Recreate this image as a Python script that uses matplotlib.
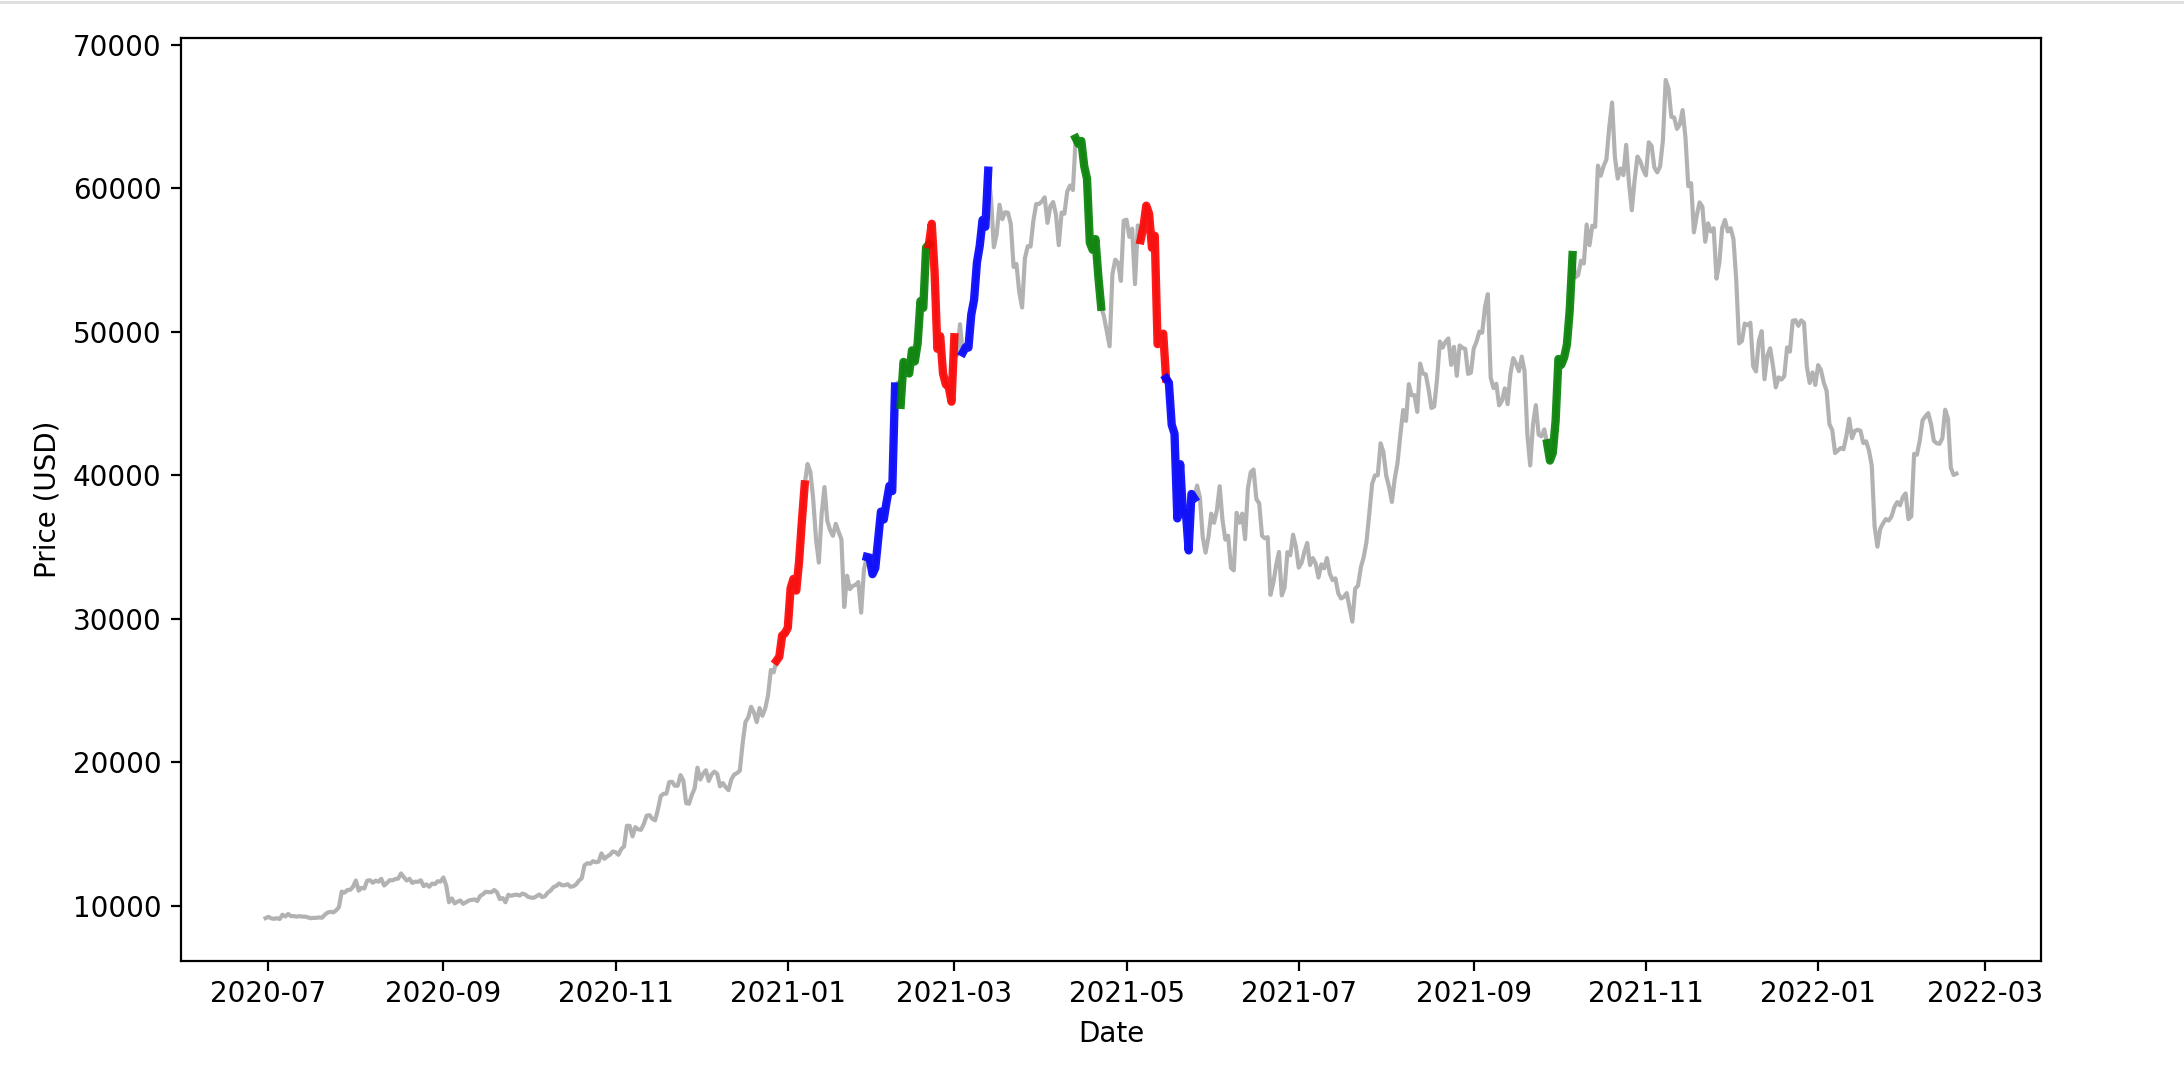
import numpy as np
import pandas as pd
import matplotlib
matplotlib.use("Agg")
import matplotlib.pyplot as plt
from matplotlib.lines import Line2D

# daily closing price (USD)
jun_2020 = [9137]
jul_2020 = [9228, 9123, 9087, 9132, 9073, 9375, 9252, 9428, 9277, 9278, 9240, 9276, 9243, 9243, 9192, 9132,
            9151, 9159, 9185, 9164, 9374, 9525, 9581, 9536, 9677, 9905, 10990, 10912, 11100, 11111, 11323]
aug_2020 = [11760, 11053, 11246, 11205, 11747, 11779, 11601, 11754, 11675, 11878, 11410, 11584, 11784, 11769,
            11865, 11892, 12254, 11991, 11758, 11878, 11592, 11681, 11664, 11774, 11366, 11489, 11323, 11542,
            11507, 11711, 11680]
sep_2020 = [11971, 11414, 10245, 10512, 10169, 10281, 10370, 10132, 10243, 10364, 10401, 10443, 10324, 10681,
            10797, 10974, 10949, 10944, 11095, 10938, 10462, 10538, 10246, 10761, 10692, 10750, 10776, 10709,
            10845, 10785]
oct_2020 = [10620, 10570, 10550, 10670, 10788, 10604, 10669, 10915, 11065, 11296, 11384, 11555, 11426, 11430,
            11505, 11322, 11358, 11483, 11742, 11917, 12823, 12965, 12931, 13108, 13031, 13075, 13654, 13272,
            13437, 13547, 13781]
nov_2020 = [13737, 13550, 13950, 14133, 15579, 15565, 14833, 15479, 15332, 15290, 15701, 16276, 16317, 16068,
            15955, 16716, 17645, 17804, 17817, 18621, 18642, 18370, 18364, 19107, 18732, 17150, 17108, 17717,
            18177, 19625]
dec_2020 = [18802, 19201, 19445, 18699, 19154, 19346, 19191, 18321, 18553, 18264, 18058, 18803, 19142, 19246,
            19417, 21310, 22805, 23137, 23869, 23477, 22803, 23783, 23241, 23735, 24664, 26437, 26272, 27084,
            27362, 28841, 29002]
jan_2021 = [29374, 32127, 32782, 31971, 33992, 36824, 39371, 40797, 40254, 38356, 35566, 33922, 37316, 39187,
            36825, 36178, 35791, 36630, 36069, 35547, 30825, 33005, 32067, 32289, 32366, 32569, 30432, 33466,
            34316, 34269, 33114]
feb_2021 = [33537, 35510, 37472, 36926, 38144, 39266, 38903, 46196, 46481, 44918, 47909, 47504, 47105, 48717,
            47945, 49199, 52149, 51679, 55888, 56100, 57539, 54207, 48824, 49705, 47093, 46339, 46188, 45137]
mar_2021 = [49631, 48378, 50538, 48561, 48927, 48912, 51206, 52246, 54824, 56008, 57805, 57332, 61243, 59302,
            55907, 56804, 58870, 57858, 58346, 58313, 57523, 54529, 54738, 52775, 51704, 55137, 55974, 55947,
            57750, 58918, 58918]
apr_2021 = [59095, 59384, 57603, 58758, 59057, 58192, 56048, 58323, 58245, 59793, 60204, 59893, 63503, 63109,
            63314, 61572, 60683, 56216, 55724, 56473, 53906, 51762, 51093, 50050, 49004, 54021, 55033, 54824,
            53555, 57750]
may_2021 = [57828, 56631, 57200, 53333, 57424, 56397, 57356, 58803, 58232, 55859, 56704, 49150, 49716, 49880,
            46760, 46456, 43538, 42909, 37002, 40782, 37304, 37536, 34770, 38705, 38402, 39294, 38436, 35697,
            34617, 35678, 37333]
jun_2021 = [36694, 37569, 39247, 36880, 35520, 35797, 33552, 33380, 37389, 36702, 37334, 35552, 39098, 40218,
            40407, 38347, 38053, 35787, 35615, 35698, 31676, 32505, 33723, 34662, 31637, 32186, 34650, 34434,
            35867, 35040]
jul_2021 = [33572, 33897, 34668, 35287, 33746, 34235, 33855, 32877, 33798, 33520, 34240, 33155, 32702, 32822,
            31780, 31421, 31533, 31796, 30817, 29807, 32110, 32314, 33581, 34292, 35350, 37337, 39406, 39995,
            40008, 42235, 41626]
aug_2021 = [39974, 39201, 38152, 39747, 40869, 42816, 44556, 43798, 46365, 45585, 45593, 44428, 47793, 47096,
            47047, 46004, 44695, 44801, 46717, 49339, 48905, 49321, 49546, 47706, 48960, 46942, 49058, 48902,
            48806, 47074, 47167]
sep_2021 = [48847, 49327, 50025, 49944, 51753, 52633, 46811, 46091, 46391, 44883, 45201, 46063, 44963, 47092,
            48176, 47783, 47267, 48278, 47260, 42844, 40694, 43574, 44896, 42840, 42717, 43208, 42236, 41034,
            41564, 43790]
oct_2021 = [48116, 47711, 48199, 49112, 51515, 55361, 53805, 53967, 54968, 54771, 57484, 56041, 57401, 57321,
            61593, 60892, 61553, 62026, 64262, 65993, 62210, 60692, 61393, 60931, 63039, 60364, 58483, 60622,
            62227, 61889, 61319]
nov_2021 = [60915, 63220, 62970, 61453, 61126, 61528, 63327, 67566, 66972, 64995, 64950, 64155, 64469, 65466,
            63557, 60161, 60368, 56943, 58119, 59031, 58732, 56289, 57570, 57006, 57229, 53716, 54816, 57248,
            57806, 57005]
dec_2021 = [57229, 56478, 53598, 49201, 49369, 50583, 50472, 50640, 47589, 47244, 49385, 50053, 46702, 48343,
            48864, 47632, 46132, 46835, 46681, 46915, 48925, 48628, 50784, 50822, 50429, 50809, 50640, 47588,
            46444, 47178, 46307]
jan_2022 = [47686, 47345, 46458, 45897, 43569, 43160, 41558, 41734, 41912, 41822, 42736, 43949, 42592, 43099,
            43177, 43114, 42250, 42375, 41744, 40680, 36458, 35030, 36276, 36654, 36954, 36852, 37138, 37784,
            38138, 37917, 38483]
feb_2022 = [38743, 36952, 37154, 41501, 41441, 42412, 43840, 44118, 44338, 43565, 42407, 42244, 42197, 42586,
            44575, 43961, 40538, 40030, 40122]

# highlighted windows
seg_starts = ["2020-12-28", "2021-01-29", "2021-02-10", "2021-02-20", "2021-03-04",
              "2021-04-13", "2021-05-06", "2021-05-15", "2021-09-27"]
seg_ends = ["2021-01-07", "2021-02-08", "2021-02-20", "2021-03-01", "2021-03-13",
            "2021-04-22", "2021-05-15", "2021-05-25", "2021-10-06"]
seg_colors = ["red", "blue", "green", "red", "blue", "green", "red", "blue", "green"]

months = [jun_2020, jul_2020, aug_2020, sep_2020, oct_2020, nov_2020, dec_2020,
          jan_2021, feb_2021, mar_2021, apr_2021, may_2021, jun_2021, jul_2021, aug_2021,
          sep_2021, oct_2021, nov_2021, dec_2021, jan_2022, feb_2022]
prices = [p for m in months for p in m]
dates = pd.date_range("2020-06-30", periods=len(prices), freq="D")
df = pd.DataFrame({"Close": prices}, index=dates)

fig = plt.figure(figsize=(10.92, 5.39), dpi=200)
ax = fig.add_axes([181 / 2184, 117 / 1078, 1860 / 2184, 923 / 1078])

ax.plot(df.index, df["Close"], color="gray", alpha=0.6)
for s, e, c in zip(seg_starts, seg_ends, seg_colors):
    part = df.loc[s:e]
    ax.plot(part.index, part["Close"], color=c, alpha=0.9, linewidth=3)

ax.set_xlabel("Date")
ax.set_ylabel("Price (USD)")

# notebook cell border at the top
fig.add_artist(Line2D([0, 1], [0.998, 0.998], color="#dddddd", linewidth=1))

plt.savefig("out.png")
